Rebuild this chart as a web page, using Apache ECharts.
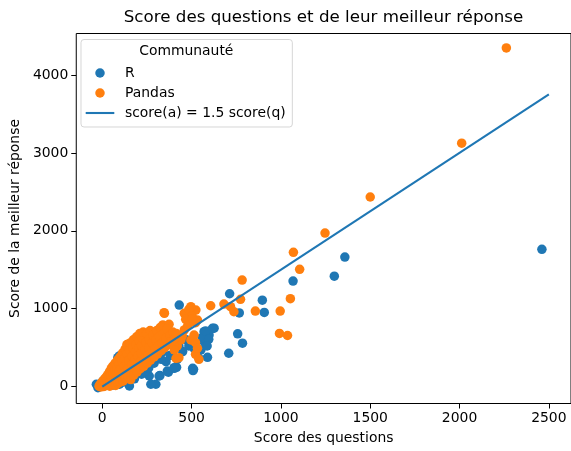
<!DOCTYPE html>
<html>
<head>
<meta charset="utf-8">
<script src="https://cdn.jsdelivr.net/npm/echarts@6/dist/echarts.min.js"></script>
<style>html,body{margin:0;padding:0;background:#fff}#c{width:571px;height:451px}</style>
</head>
<body>
<div id="c"></div>
<script>
// [score question, score meilleure réponse]
const rScores = [
  [2461,1762],[1358,1663],[1299,1418],[1068,1354],[896,1110],[907,952],[713,1192],[767,945],
  [758,678],[785,557],[708,428],[626,750],[617,748],[598,662],[570,705],[579,556],[589,376],
  [542,363],[511,222],[552,470],[514,492],[570,576],[506,235],[508,206],[403,235],[416,248],
  [357,320],[370,184],[323,141],[431,1047],[207,607],[227,557],[96,393],[87,371],[429,521],[485,521],
  [559,628],[578,714],[596,607],[587,521],[420,350],[402,243],[364,200],[318,136],[300,30],
  [272,30],[263,136],[152,8],[96,30],[40,20],[3,72],[-24,-14],[-33,30],
  [10,10],[30,40],[50,60],[70,100],[90,120],[110,160],[130,200],[150,230],[170,250],[190,280],
  [210,300],[230,330],[250,350],[280,380],[310,420],[340,450],[60,20],[120,60],[180,100],
  [220,160],[240,200],[260,240],[290,300],[330,350],[380,400],[450,450],[470,600]
];
const pandasScores = [
  [2262,4347],[2012,3125],[1500,2434],[1247,1971],[1070,1723],[1105,1505],[1053,1128],[996,970],
  [992,682],[1037,656],[857,970],[783,1368],[774,1121],[737,961],[718,1026],[681,1060],[607,1038],
  [524,983],[496,1026],[459,941],[533,855],[348,941],[339,791],[367,705],[496,598],[514,662],
  [413,363],[459,727],[413,576],[485,992],[503,906],[467,864],[522,820],[448,650],[420,521],
  [429,371],[522,564],[522,415],[541,350],[346,949],[374,800],[478,780],[505,870],[440,600],
  [403,470],[533,492],
  [-18,5],[-12,30],[-8,-5],[-5,45],[0,15],[3,70],[6,0],[8,35],[12,95],[15,10],[18,55],[20,120],
  [24,25],[27,85],[30,150],[33,45],[36,110],[40,190],[42,5],[45,70],[48,140],[50,230],[54,30],
  [57,100],[60,170],[58,260],
  [64,60],[67,130],[70,210],[72,300],[75,15],[78,90],[80,170],[83,250],[85,340],[88,40],[91,120],
  [94,200],[96,290],[99,380],[100,60],
  [104,140],[107,230],[110,330],[113,430],[116,70],[119,170],[122,260],[125,360],[128,480],
  [131,100],[134,200],[137,300],[140,420],[138,540],
  [144,130],[147,240],[150,340],[153,470],[156,560],[159,90],[162,180],[165,280],[168,390],
  [171,500],[174,600],[177,150],[180,240],
  [183,340],[186,450],[189,540],[192,640],[195,190],[198,280],[201,390],[204,500],[207,590],
  [210,680],[213,230],[216,320],[219,430],[220,530],
  [225,620],[229,700],[232,260],[236,360],[240,470],[244,570],[248,680],[252,300],[256,400],
  [260,500],[264,610],[268,720],[270,340],
  [275,440],[280,560],[285,660],[290,380],[295,480],[300,600],[305,720],[310,420],[315,520],
  [320,640],[325,760],[330,460],
  [336,560],[342,680],[350,500],[356,620],[362,740],[370,540],[378,660],[386,580],[395,700],
  [405,620],[415,680]
];
const refLineQuestion = [0, 2500];
const refLineAnswer = [0, 3750];
const xTicks = [0, 500, 1000, 1500, 2000, 2500];
const yTicks = [0, 1000, 2000, 3000, 4000];

const FONT = 'DejaVu Sans';
const FS = 13.9;
const plain = v => String(Math.round(v));
const chart = echarts.init(document.getElementById('c'), null, {renderer: 'canvas'});
chart.setOption({
  animation: false,
  backgroundColor: '#ffffff',
  textStyle: {fontFamily: FONT},
  grid: {left: 74.5, right: -2, top: 33.5, bottom: 47.5, show: true, borderColor: '#000', borderWidth: 1, backgroundColor: 'transparent'},
  xAxis: {
    type: 'value', min: -145.6, max: 2623.9,
    name: 'Score des questions', nameLocation: 'middle', nameGap: 28,
    nameTextStyle: {fontFamily: FONT, fontSize: FS, color: '#000'},
    axisLine: {show: false, onZero: false},
    splitLine: {show: false},
    axisTick: {show: true, length: 5, lineStyle: {color: '#000', width: 1}, customValues: xTicks},
    axisLabel: {fontFamily: FONT, fontSize: FS, color: '#000', margin: 8, customValues: xTicks, formatter: plain}
  },
  yAxis: {
    type: 'value', min: -217, max: 4532.7,
    name: 'Score de la meilleur réponse', nameLocation: 'middle', nameGap: 52,
    nameTextStyle: {fontFamily: FONT, fontSize: FS, color: '#000'},
    axisLine: {show: false, onZero: false},
    splitLine: {show: false},
    axisTick: {show: true, length: 5, lineStyle: {color: '#000', width: 1}, customValues: yTicks},
    axisLabel: {fontFamily: FONT, fontSize: FS, color: '#000', margin: 8, customValues: yTicks, formatter: plain}
  },
  legend: {
    orient: 'vertical', left: 81, top: 39.5,
    padding: [23.5, 6.7, 4, 4.7],
    itemWidth: 28.6, itemHeight: 9.5, itemGap: 0,
    backgroundColor: 'rgba(255,255,255,0.8)',
    borderColor: 'rgba(204,204,204,0.8)', borderWidth: 1, borderRadius: 3,
    textStyle: {fontFamily: FONT, fontSize: FS, color: '#000', lineHeight: 20, padding: [0, 0, 0, 5.7]},
    data: [
      {name: 'R', icon: 'circle'},
      {name: 'Pandas', icon: 'circle'},
      {name: 'score(a) = 1.5 score(q)', icon: 'path://M0,0 H28.6 V2.1 H0 Z', itemStyle: {color: '#1f77b4'}}
    ],
    selectedMode: false
  },
  graphic: [
    {type: 'text', x: 323.5, y: 18, z: 100, style: {text: 'Score des questions et de leur meilleur réponse', font: '16.7px "DejaVu Sans"', fill: '#000', textAlign: 'center', textVerticalAlign: 'middle'}},
    {type: 'text', x: 186.3, y: 51, z: 100, style: {text: 'Communauté', font: FS + 'px "DejaVu Sans"', fill: '#000', textAlign: 'center', textVerticalAlign: 'middle'}}
  ],
  series: [
    {name: 'R', type: 'scatter', data: rScores, symbol: 'circle', symbolSize: 9.5,
     itemStyle: {color: '#1f77b4', opacity: 1}, emphasis: {disabled: true}},
    {name: 'Pandas', type: 'scatter', data: pandasScores, symbol: 'circle', symbolSize: 9.5,
     itemStyle: {color: '#ff7f0e', opacity: 1}, emphasis: {disabled: true}},
    {name: 'score(a) = 1.5 score(q)', type: 'line',
     data: refLineQuestion.map((q, i) => [q, refLineAnswer[i]]),
     symbol: 'none', showSymbol: false, lineStyle: {color: '#1f77b4', width: 2.1}, itemStyle: {color: '#1f77b4'},
     emphasis: {disabled: true}}
  ]
});
</script>
</body>
</html>
